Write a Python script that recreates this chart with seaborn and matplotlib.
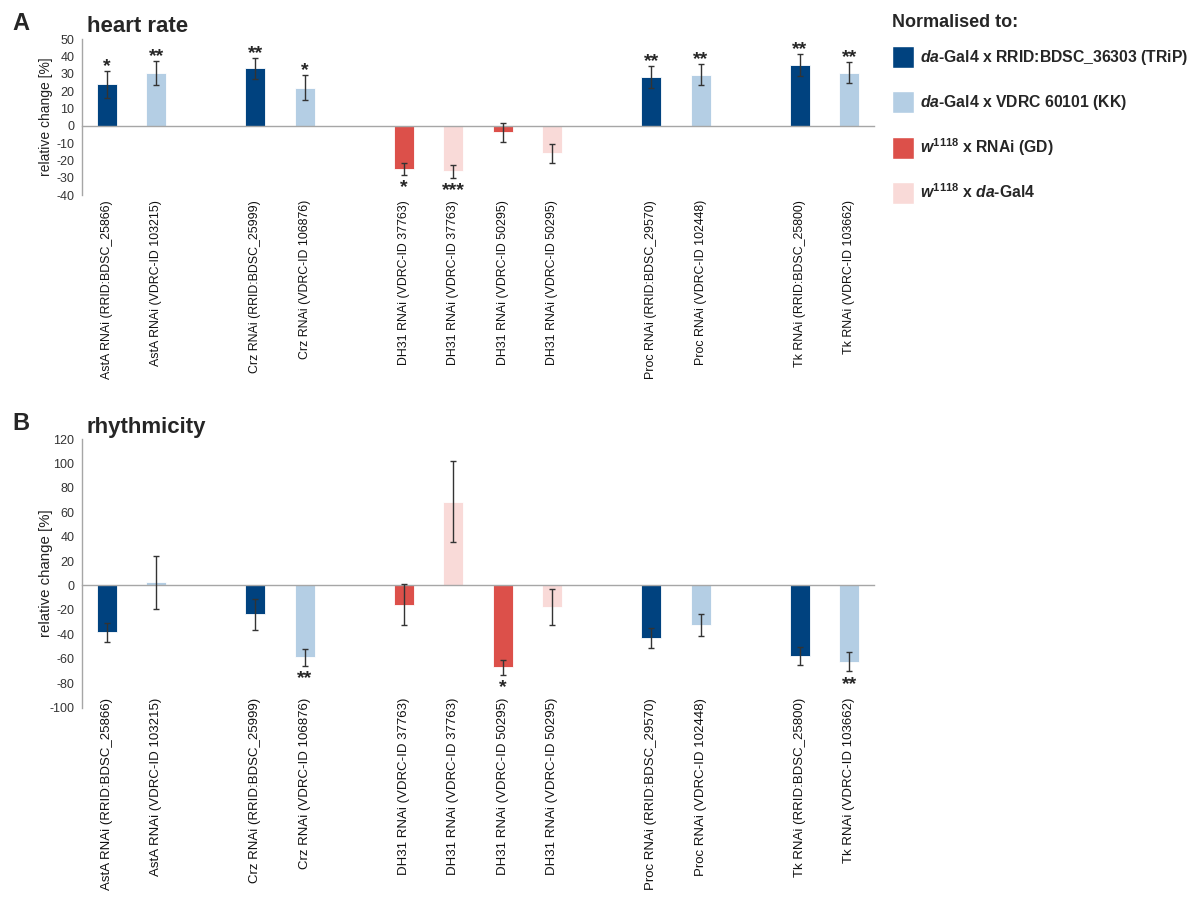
import numpy as np
import pandas as pd
import matplotlib
matplotlib.use("Agg")
import matplotlib.pyplot as plt
from matplotlib.patches import Patch
from matplotlib.transforms import blended_transform_factory
import seaborn as sns

# lines tested, in the order they appear on the x axis
lines = ["AstA RNAi (RRID:BDSC_25866)", "AstA RNAi (VDRC-ID 103215)",
         "Crz RNAi (RRID:BDSC_25999)", "Crz RNAi (VDRC-ID 106876)",
         "DH31 RNAi (VDRC-ID 37763)", "DH31 RNAi (VDRC-ID 37763)",
         "DH31 RNAi (VDRC-ID 50295)", "DH31 RNAi (VDRC-ID 50295)",
         "Proc RNAi (RRID:BDSC_29570)", "Proc RNAi (VDRC-ID 102448)",
         "Tk RNAi (RRID:BDSC_25800)", "Tk RNAi (VDRC-ID 103662)"]
groups = ["TRiP", "KK", "TRiP", "KK", "GD", "ctrl", "GD", "ctrl",
          "TRiP", "KK", "TRiP", "KK"]
# slot on the axis (gaps between gene blocks)
slots = [0, 1, 3, 4, 6, 7, 8, 9, 11, 12, 14, 15]

hr_values = [24.0, 30.5, 33.2, 22.1, -25.0, -26.2, -3.8, -15.9, 28.3, 29.6, 35.2, 30.6]
hr_errors = [7.7, 7.1, 5.9, 7.3, 3.5, 3.7, 5.5, 5.6, 6.5, 6.0, 6.2, 6.0]
hr_stars = ["*", "**", "**", "*", "*", "***", "", "", "**", "**", "**", "**"]

rh_values = [-38.5, 2.5, -23.5, -58.9, -15.8, 68.7, -67.1, -17.5, -42.8, -32.5, -57.8, -62.5]
rh_errors = [7.6, 21.4, 12.7, 6.7, 17.0, 33.2, 6.3, 15.0, 8.2, 8.9, 7.2, 7.9]
rh_stars = ["", "", "", "**", "", "", "*", "", "", "", "", "**"]

group_order = ["TRiP", "KK", "GD", "ctrl"]
palette = {"TRiP": "#00427F", "KK": "#B4CEE4", "GD": "#DC504A", "ctrl": "#F9DAD8"}
legend_labels = [r"$da$-Gal4 x RRID:BDSC_36303 (TRiP)",
                 r"$da$-Gal4 x VDRC 60101 (KK)",
                 r"$w^{1118}$ x RNAi (GD)",
                 r"$w^{1118}$ x $da$-Gal4"]

sns.set_style("white")
plt.rcParams["font.family"] = ["Liberation Sans", "DejaVu Sans"]
plt.rcParams["axes.unicode_minus"] = False
plt.rcParams["mathtext.fontset"] = "custom"
plt.rcParams["mathtext.it"] = "Liberation Sans:italic:bold"
plt.rcParams["mathtext.rm"] = "Liberation Sans:bold"
plt.rcParams["mathtext.bf"] = "Liberation Sans:bold"

W, H = 1193, 898
fig = plt.figure(figsize=(W / 100, H / 100), dpi=100)
ax1 = fig.add_axes([82 / W, 1 - 195 / H, 792 / W, 155.7 / H])
ax2 = fig.add_axes([82 / W, 1 - 707.5 / H, 792 / W, 268.5 / H])


def draw_panel(ax, values, errors, stars, ylim, step, fs_lab, fs_ylab, label_y):
    df = pd.DataFrame({"slot": slots, "value": values, "group": groups})
    sns.barplot(data=df, x="slot", y="value", hue="group", hue_order=group_order,
                palette=palette, native_scale=True, width=0.4, dodge=False,
                errorbar=None, legend=False, edgecolor="white", linewidth=0.6,
                saturation=1, ax=ax)
    ax.errorbar(slots, values, yerr=errors, fmt="none", ecolor="#333333",
                elinewidth=1, capsize=2.5, capthick=1, zorder=4)
    for x, v, e, s in zip(slots, values, errors, stars):
        if not s:
            continue
        if v >= 0:
            ax.annotate(s, (x, v + e), xytext=(0, 0), textcoords="offset pixels",
                        ha="center", va="baseline", fontsize=14, fontweight="bold")
        else:
            ax.annotate(s, (x, v - e), xytext=(0, -17.3), textcoords="offset pixels",
                        ha="center", va="baseline", fontsize=14, fontweight="bold")

    ax.set_xlim(-0.5, 15.5)
    ax.set_ylim(*ylim)
    ax.set_yticks(np.arange(ylim[0], ylim[1] + 1, step))
    ax.set_xticks(np.arange(0.5, 15.6, 1.0))
    ax.set_xlabel("")
    ax.spines["top"].set_visible(False)
    ax.spines["right"].set_visible(False)
    ax.spines["bottom"].set_position(("data", 0))
    for sp in ["bottom", "left"]:
        ax.spines[sp].set_color("#A6A6A6")
        ax.spines[sp].set_linewidth(1.0)
    ax.tick_params(axis="x", length=4, width=1, color="#A6A6A6", direction="out",
                   labelbottom=False)
    ax.tick_params(axis="y", length=4, width=1, color="#A6A6A6", direction="out",
                   labelsize=9, labelcolor="#333333", pad=1.5)
    ax.set_ylabel("relative change [%]", fontsize=fs_ylab, color="#222222")
    ax.yaxis.set_label_coords(-0.0366, 0.5)

    tr = blended_transform_factory(ax.transData, fig.transFigure)
    for x, lab in zip(slots, lines):
        ax.text(x, label_y, lab, transform=tr, rotation=90, ha="center", va="top",
                fontsize=fs_lab, color="#111111")


draw_panel(ax1, hr_values, hr_errors, hr_stars, (-40, 50), 10, 8.9, 10, 1 - 200 / H)
draw_panel(ax2, rh_values, rh_errors, rh_stars, (-100, 120), 20, 9.5, 10.8, 1 - 698 / H)

fig.text(12 / W, 1 - 30 / H, "A", fontsize=17, fontweight="bold", va="baseline")
fig.text(87 / W, 1 - 32 / H, "heart rate", fontsize=16, fontweight="bold", va="baseline")
fig.text(12 / W, 1 - 430 / H, "B", fontsize=17, fontweight="bold", va="baseline")
fig.text(87 / W, 1 - 433 / H, "rhythmicity", fontsize=16, fontweight="bold", va="baseline")
fig.text(892 / W, 1 - 27 / H, "Normalised to:", fontsize=13, fontweight="bold", va="baseline")

handles = [Patch(facecolor=palette[g], edgecolor="white") for g in group_order]
fig.legend(handles, legend_labels, loc="upper left",
           bbox_to_anchor=(892 / W, 1 - 46 / H), frameon=False,
           prop={"weight": "bold", "size": 11.3}, handlelength=1.4,
           handleheight=1.78, handletextpad=0.4, labelspacing=1.47,
           borderpad=0, borderaxespad=0)

fig.savefig("out.png", dpi=100)
